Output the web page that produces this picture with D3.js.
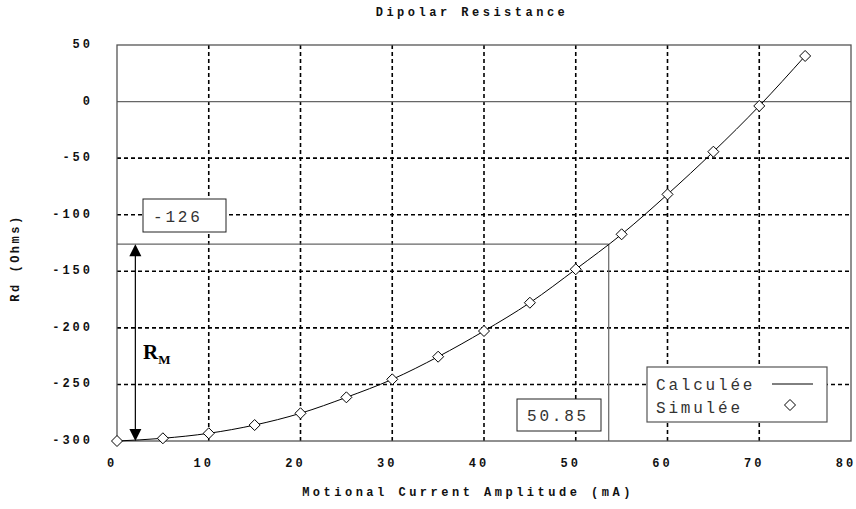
<!DOCTYPE html>
<html>
<head>
<meta charset="utf-8">
<script src="https://cdn.jsdelivr.net/npm/d3@7"></script>
<style>
  body { margin: 0; background: #fff; }
  svg { display: block; }
  .tick-label { font-family: "Liberation Mono", monospace; font-weight: bold; font-size: 12px; letter-spacing: 3px; fill: #111; }
  .axis-title { font-family: "Liberation Mono", monospace; font-weight: bold; font-size: 12px; letter-spacing: 3.5px; fill: #111; }
  .note { font-family: "Liberation Mono", monospace; font-size: 16px; letter-spacing: 2.8px; fill: #333; }
</style>
</head>
<body>
<svg width="856" height="509"></svg>
<script>
// values
const current = [0, 5, 10, 15, 20, 25, 30, 35, 40, 45, 50, 55, 60, 65, 70, 75];
const rd = [-300, -297.6, -293.2, -285.9, -275.5, -261.4, -245.5, -225.5, -202.8, -177.8, -148.2, -117.3, -82, -44.3, -3.9, 40.3];
const xTicks = [0, 10, 20, 30, 40, 50, 60, 70, 80];
const yTicks = [50, 0, -50, -100, -150, -200, -250, -300];
const rmValue = -126;
const rmText = "-126";
const crossText = "50.85";
const arrowX = 2;
const legendNames = ["Calculée", "Simulée"];

const svg = d3.select('svg');
const plotLeft = 117, plotRight = 851, plotTop = 45, plotBottom = 441;

const x = d3.scaleLinear().domain([0, 80]).range([plotLeft, plotRight]);
const y = d3.scaleLinear().domain([-300, 50]).range([plotBottom, plotTop]);

const points = current.map((c, i) => ({ x: c, y: rd[i] }));

// where the curve crosses the RM level
let crossX = 0;
for (let i = 1; i < points.length; i++) {
  const a = points[i - 1], b = points[i];
  if (a.y <= rmValue && b.y >= rmValue) {
    crossX = a.x + (rmValue - a.y) / (b.y - a.y) * (b.x - a.x);
    break;
  }
}

// dashed grid
const g = svg.append('g');
g.selectAll('.vgrid')
  .data(xTicks.filter(t => t > 0 && t < 80))
  .enter().append('line')
    .attr('x1', d => x(d)).attr('x2', d => x(d))
    .attr('y1', plotTop).attr('y2', plotBottom)
    .attr('stroke', '#000').attr('stroke-width', 1.6).attr('stroke-dasharray', '4,3');
g.selectAll('.hgrid')
  .data(yTicks.filter(t => t < 0 && t > -300))
  .enter().append('line')
    .attr('x1', plotLeft).attr('x2', plotRight)
    .attr('y1', d => y(d)).attr('y2', d => y(d))
    .attr('stroke', '#000').attr('stroke-width', 1.6).attr('stroke-dasharray', '4,3');

// zero line
g.append('line')
  .attr('x1', plotLeft).attr('x2', plotRight)
  .attr('y1', y(0)).attr('y2', y(0))
  .attr('stroke', '#666').attr('stroke-width', 1.3);

// RM level lines
g.append('line')
  .attr('x1', plotLeft).attr('x2', x(crossX))
  .attr('y1', y(rmValue)).attr('y2', y(rmValue))
  .attr('stroke', '#666').attr('stroke-width', 1.2);
g.append('line')
  .attr('x1', x(crossX)).attr('x2', x(crossX))
  .attr('y1', y(rmValue)).attr('y2', plotBottom)
  .attr('stroke', '#666').attr('stroke-width', 1.2);

// frame
g.append('rect')
  .attr('x', plotLeft).attr('y', plotTop)
  .attr('width', plotRight - plotLeft).attr('height', plotBottom - plotTop)
  .attr('fill', 'none').attr('stroke', '#555').attr('stroke-width', 1.3);

// curve
const line = d3.line().x(d => x(d.x)).y(d => y(d.y)).curve(d3.curveMonotoneX);
g.append('path')
  .datum(points)
  .attr('d', line)
  .attr('fill', 'none').attr('stroke', '#000').attr('stroke-width', 1);

const diamond = 'M0,-5.5L5.5,0L0,5.5L-5.5,0Z';
g.selectAll('.pt')
  .data(points)
  .enter().append('path')
    .attr('d', diamond)
    .attr('transform', d => 'translate(' + x(d.x) + ',' + y(d.y) + ')')
    .attr('fill', '#fff').attr('stroke', '#000').attr('stroke-width', 1);

// tick labels
g.selectAll('.xl')
  .data(xTicks)
  .enter().append('text')
    .attr('class', 'tick-label')
    .attr('x', d => x(d) - 5)
    .attr('y', 467)
    .attr('text-anchor', 'middle')
    .text(d => d);
g.selectAll('.yl')
  .data(yTicks)
  .enter().append('text')
    .attr('class', 'tick-label')
    .attr('x', 93)
    .attr('y', d => y(d) + 3)
    .attr('text-anchor', 'end')
    .text(d => d);

// titles
svg.append('text').attr('class', 'axis-title')
  .attr('x', 472).attr('y', 16).attr('text-anchor', 'middle')
  .text('Dipolar Resistance');
svg.append('text').attr('class', 'axis-title')
  .attr('x', 468).attr('y', 496).attr('text-anchor', 'middle')
  .text('Motional Current Amplitude (mA)');
svg.append('text').attr('class', 'axis-title')
  .attr('transform', 'translate(19,258) rotate(-90)')
  .attr('text-anchor', 'middle')
  .style('letter-spacing', '2.5px')
  .text('Rd (Ohms)');

// boxes with values
function labelBox(bx, by, bw, bh, txt) {
  g.append('rect').attr('x', bx).attr('y', by).attr('width', bw).attr('height', bh)
    .attr('fill', '#fff').attr('stroke', '#222').attr('stroke-width', 1);
  g.append('text').attr('class', 'note')
    .attr('x', bx + 10).attr('y', by + bh / 2 + 6)
    .text(txt);
}
labelBox(143, 199, 83, 33, rmText);
labelBox(517, 399, 84, 32, crossText);

// RM arrow
const ax = x(arrowX);
const y1 = y(rmValue), y2 = y(-300);
g.append('line').attr('x1', ax).attr('x2', ax).attr('y1', y1 + 10).attr('y2', y2 - 10)
  .attr('stroke', '#000').attr('stroke-width', 1.2);
g.append('path').attr('d', `M${ax},${y1}L${ax - 6},${y1 + 12}L${ax + 6},${y1 + 12}Z`).attr('fill', '#000');
g.append('path').attr('d', `M${ax},${y2}L${ax - 6},${y2 - 12}L${ax + 6},${y2 - 12}Z`).attr('fill', '#000');

const rm = g.append('text')
  .attr('x', 143).attr('y', 359)
  .style('font-family', '"Liberation Serif", serif')
  .style('font-weight', 'bold')
  .style('font-size', '21px');
rm.append('tspan').text('R');
rm.append('tspan').attr('dy', 5).style('font-size', '13px').text('M');

// legend
const lg = g.append('g');
lg.append('rect').attr('x', 647).attr('y', 367).attr('width', 180).attr('height', 55)
  .attr('fill', '#fff').attr('stroke', '#555').attr('stroke-width', 1.2);
lg.append('text').attr('class', 'note').attr('x', 656).attr('y', 390).text(legendNames[0]);
lg.append('text').attr('class', 'note').attr('x', 656).attr('y', 413).text(legendNames[1]);
lg.append('line').attr('x1', 772).attr('x2', 813).attr('y1', 384).attr('y2', 384)
  .attr('stroke', '#000').attr('stroke-width', 1);
lg.append('path').attr('d', diamond).attr('transform', 'translate(790,405)')
  .attr('fill', '#fff').attr('stroke', '#000').attr('stroke-width', 1);
</script>
</body>
</html>
